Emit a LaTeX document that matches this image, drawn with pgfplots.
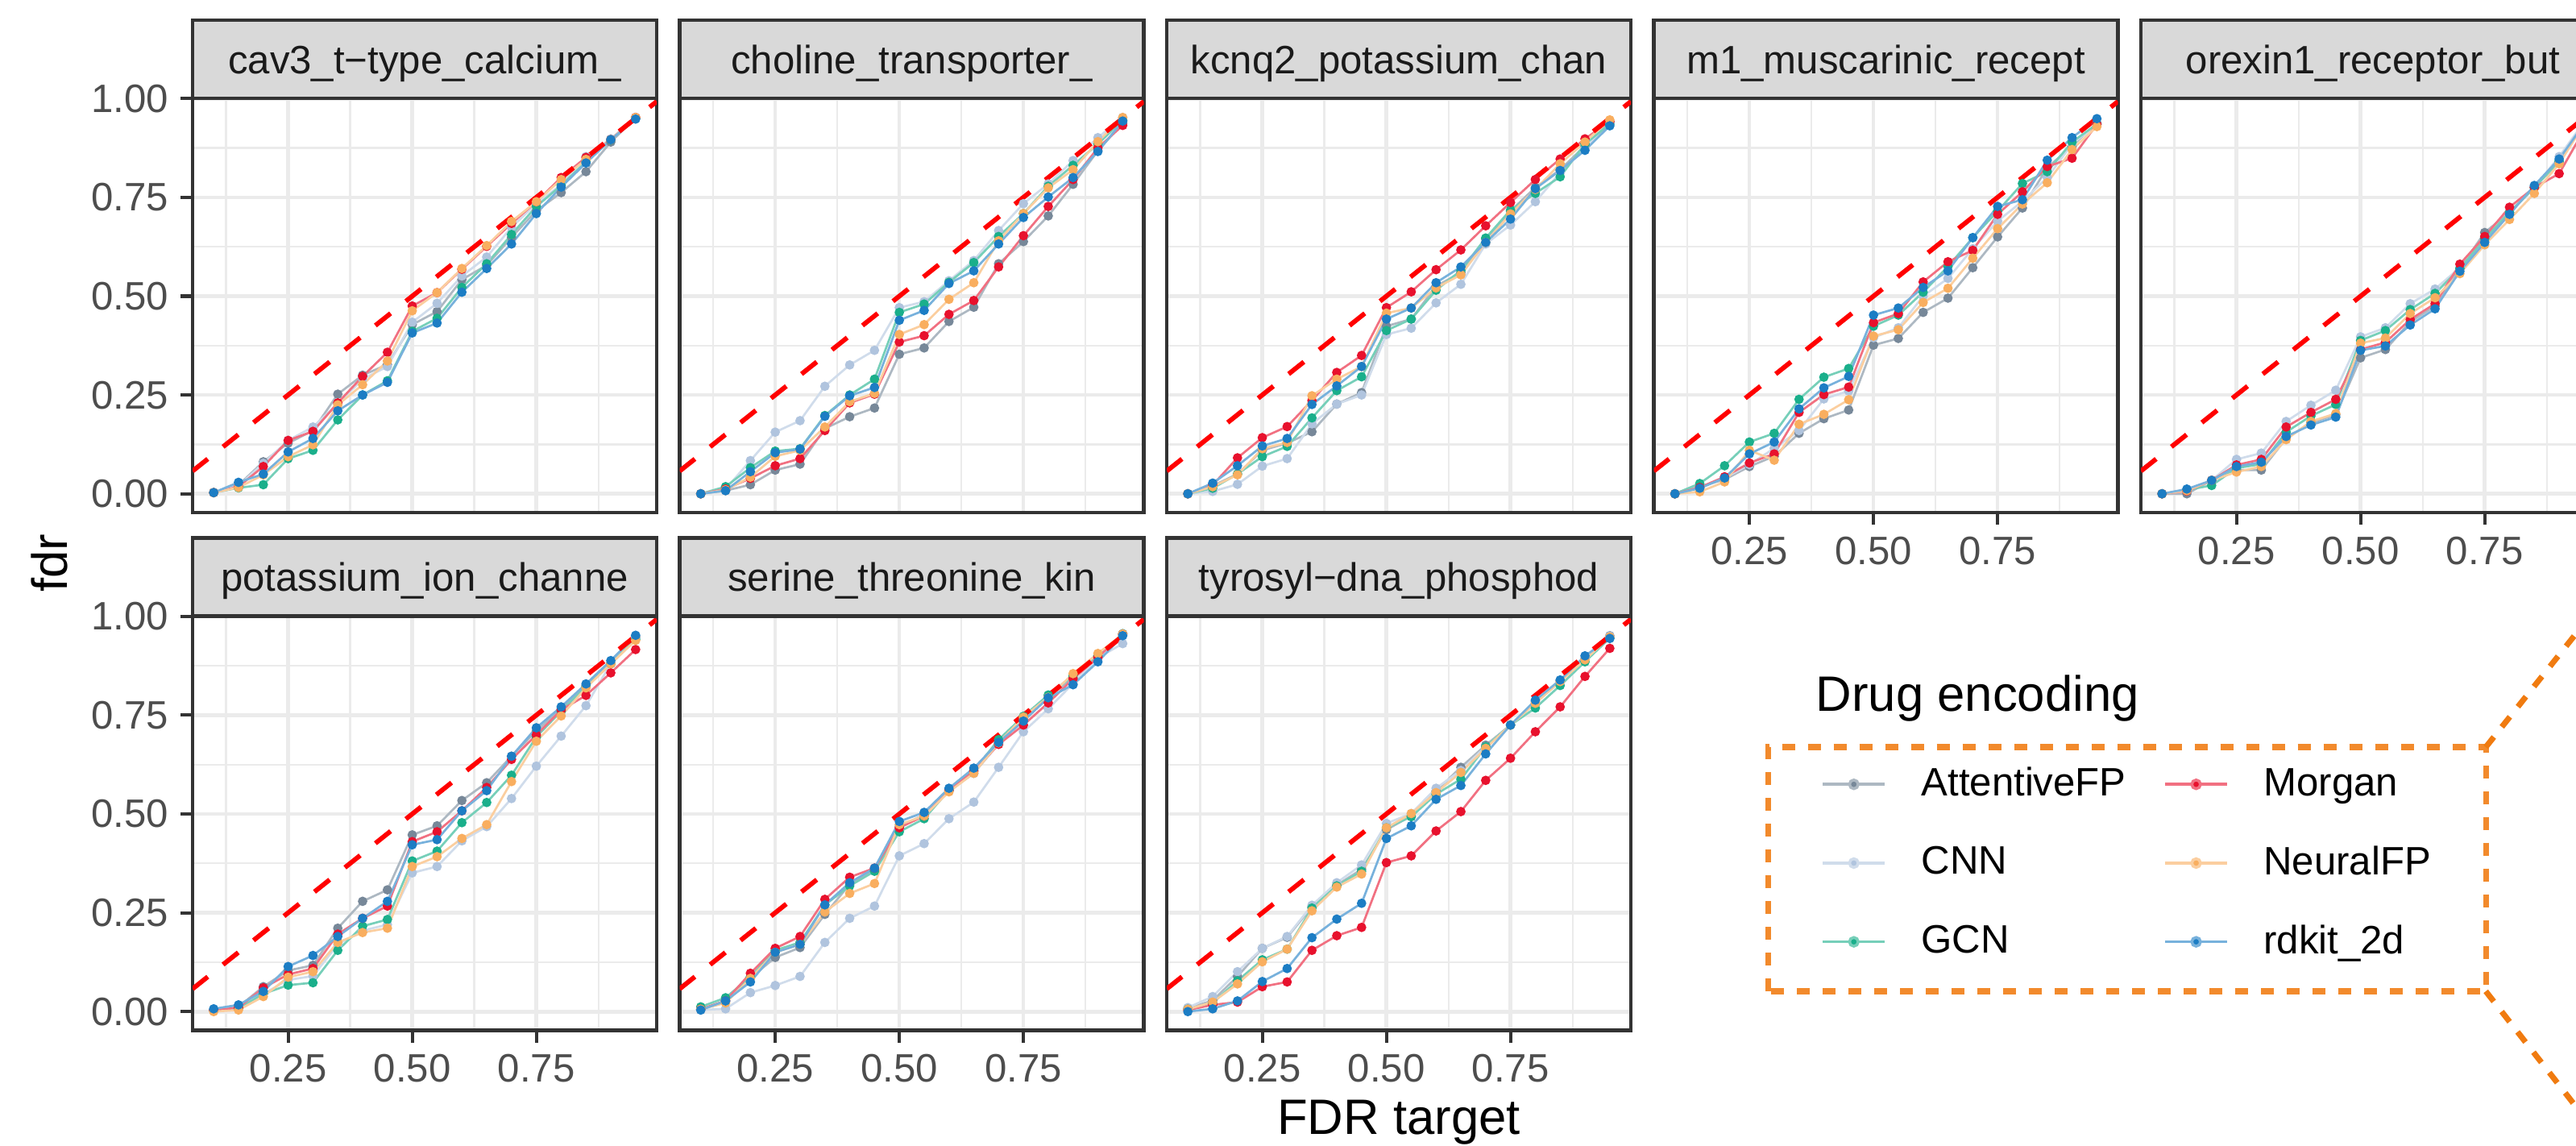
\documentclass[border=0pt]{standalone}
\usepackage{pgfplots}
\usepackage{pgfplotstable}
\pgfplotsset{compat=1.18}
\usepackage{fontspec}
\setmainfont{Liberation Sans}

\definecolor{grey92}{HTML}{EBEBEB}
\definecolor{grey85}{HTML}{D9D9D9}
\definecolor{grey20}{HTML}{333333}
\definecolor{grey30}{HTML}{4D4D4D}
\definecolor{grey10}{HTML}{1A1A1A}
\definecolor{cAtt}{HTML}{778899}
\definecolor{cCnn}{HTML}{B0C4DE}
\definecolor{cGcn}{HTML}{1AAF8B}
\definecolor{cMor}{HTML}{E8112D}
\definecolor{cNeu}{HTML}{F9AE5F}
\definecolor{cRdk}{HTML}{1C7DC4}
\definecolor{cBox}{HTML}{F28A2C}
\definecolor{cCall}{HTML}{F07B10}

\newcommand{\ticksize}{\fontsize{11.8}{14}\selectfont}
\newcommand{\titlesize}{\fontsize{14.8}{17}\selectfont}

% fdr per FDR target, one table per target (columns = drug encodings)
\pgfplotstableread{
x    att   cnn   gcn   mor   neu   rdk
0.10 0.003 0.003 0.003 0.003 0.003 0.003
0.15 0.022 0.020 0.015 0.018 0.016 0.029
0.20 0.081 0.077 0.023 0.069 0.048 0.050
0.25 0.128 0.135 0.089 0.135 0.094 0.106
0.30 0.160 0.169 0.110 0.158 0.124 0.140
0.35 0.252 0.228 0.187 0.230 0.225 0.210
0.40 0.300 0.290 0.250 0.297 0.276 0.250
0.45 0.327 0.322 0.286 0.358 0.336 0.282
0.50 0.428 0.434 0.411 0.475 0.463 0.407
0.55 0.461 0.482 0.444 0.509 0.509 0.432
0.60 0.542 0.551 0.522 0.568 0.570 0.510
0.65 0.578 0.599 0.582 0.626 0.628 0.570
0.70 0.649 0.674 0.656 0.684 0.689 0.632
0.75 0.716 0.734 0.727 0.739 0.739 0.709
0.80 0.762 0.782 0.780 0.800 0.795 0.776
0.85 0.815 0.853 0.840 0.851 0.846 0.837
0.90 0.890 0.898 0.895 0.896 0.896 0.896
0.95 0.952 0.952 0.950 0.952 0.952 0.948
}\tCav
\pgfplotstableread{
x    att   cnn   gcn   mor   neu   rdk
0.10 0.000 0.000 0.000 0.000 0.000 0.000
0.15 0.008 0.012 0.018 0.012 0.010 0.008
0.20 0.023 0.084 0.066 0.039 0.042 0.056
0.25 0.060 0.156 0.108 0.071 0.095 0.104
0.30 0.075 0.185 0.114 0.089 0.110 0.113
0.35 0.165 0.272 0.198 0.160 0.169 0.196
0.40 0.195 0.326 0.250 0.230 0.233 0.248
0.45 0.217 0.363 0.290 0.252 0.254 0.269
0.50 0.353 0.471 0.459 0.384 0.403 0.439
0.55 0.369 0.486 0.480 0.400 0.428 0.464
0.60 0.436 0.539 0.535 0.454 0.492 0.532
0.65 0.472 0.590 0.585 0.489 0.534 0.564
0.70 0.582 0.666 0.651 0.574 0.640 0.632
0.75 0.638 0.734 0.709 0.653 0.709 0.699
0.80 0.703 0.784 0.778 0.727 0.774 0.751
0.85 0.783 0.843 0.831 0.795 0.820 0.800
0.90 0.868 0.901 0.885 0.875 0.891 0.866
0.95 0.938 0.952 0.945 0.932 0.952 0.943
}\tCho
\pgfplotstableread{
x    att   cnn   gcn   mor   neu   rdk
0.10 0.000 0.000 0.000 0.000 0.000 0.000
0.15 0.020 0.006 0.014 0.022 0.018 0.027
0.20 0.050 0.024 0.050 0.091 0.048 0.071
0.25 0.110 0.070 0.094 0.142 0.114 0.121
0.30 0.128 0.089 0.120 0.170 0.130 0.140
0.35 0.157 0.177 0.192 0.236 0.248 0.226
0.40 0.227 0.227 0.261 0.307 0.290 0.273
0.45 0.256 0.250 0.296 0.350 0.322 0.322
0.50 0.424 0.403 0.413 0.471 0.457 0.442
0.55 0.442 0.419 0.442 0.511 0.470 0.470
0.60 0.525 0.483 0.515 0.567 0.521 0.534
0.65 0.560 0.530 0.565 0.617 0.554 0.574
0.70 0.645 0.632 0.647 0.678 0.636 0.636
0.75 0.715 0.680 0.718 0.737 0.708 0.695
0.80 0.775 0.739 0.760 0.795 0.770 0.772
0.85 0.820 0.812 0.802 0.847 0.835 0.818
0.90 0.880 0.876 0.885 0.898 0.890 0.869
0.95 0.940 0.938 0.935 0.942 0.946 0.931
}\tKcn
\pgfplotstableread{
x    att   cnn   gcn   mor   neu   rdk
0.10 0.000 0.000 0.000 0.000 0.000 0.000
0.15 0.018 0.015 0.026 0.016 0.005 0.014
0.20 0.036 0.040 0.071 0.043 0.030 0.040
0.25 0.069 0.074 0.131 0.078 0.110 0.101
0.30 0.095 0.115 0.153 0.101 0.085 0.131
0.35 0.153 0.160 0.239 0.206 0.176 0.215
0.40 0.190 0.240 0.295 0.251 0.201 0.268
0.45 0.212 0.260 0.317 0.270 0.238 0.297
0.50 0.376 0.395 0.424 0.433 0.399 0.452
0.55 0.393 0.420 0.452 0.456 0.415 0.470
0.60 0.459 0.500 0.510 0.536 0.484 0.522
0.65 0.495 0.545 0.575 0.587 0.520 0.564
0.70 0.572 0.620 0.648 0.616 0.596 0.648
0.75 0.650 0.690 0.715 0.707 0.671 0.727
0.80 0.723 0.740 0.785 0.764 0.733 0.744
0.85 0.825 0.800 0.815 0.828 0.787 0.844
0.90 0.880 0.885 0.890 0.849 0.871 0.901
0.95 0.938 0.935 0.935 0.935 0.929 0.949
}\tMus
\pgfplotstableread{
x    att   cnn   gcn   mor   neu   rdk
0.10 0.000 0.000 0.000 0.000 0.000 0.000
0.15 0.000 0.008 0.010 0.007 0.008 0.012
0.20 0.034 0.034 0.021 0.034 0.034 0.034
0.25 0.060 0.087 0.065 0.073 0.055 0.069
0.30 0.060 0.103 0.075 0.087 0.069 0.080
0.35 0.140 0.183 0.156 0.169 0.137 0.145
0.40 0.180 0.224 0.197 0.206 0.183 0.174
0.45 0.200 0.262 0.226 0.239 0.203 0.194
0.50 0.344 0.397 0.388 0.365 0.381 0.363
0.55 0.365 0.420 0.413 0.383 0.394 0.374
0.60 0.435 0.481 0.466 0.441 0.456 0.427
0.65 0.475 0.518 0.507 0.481 0.496 0.468
0.70 0.570 0.572 0.570 0.581 0.557 0.563
0.75 0.661 0.645 0.645 0.651 0.630 0.636
0.80 0.712 0.712 0.712 0.725 0.694 0.707
0.85 0.775 0.775 0.775 0.775 0.760 0.780
0.90 0.840 0.853 0.842 0.810 0.835 0.847
0.95 0.935 0.940 0.935 0.920 0.935 0.935
}\tOre
\pgfplotstableread{
x    att   cnn   gcn   mor   neu   rdk
0.10 0.005 0.003 0.003 0.003 0.000 0.007
0.15 0.012 0.010 0.008 0.010 0.004 0.017
0.20 0.063 0.045 0.045 0.060 0.038 0.051
0.25 0.104 0.080 0.067 0.094 0.087 0.114
0.30 0.117 0.090 0.073 0.109 0.101 0.142
0.35 0.211 0.170 0.155 0.196 0.175 0.190
0.40 0.279 0.205 0.216 0.236 0.200 0.236
0.45 0.308 0.220 0.233 0.267 0.211 0.279
0.50 0.447 0.351 0.381 0.430 0.367 0.422
0.55 0.470 0.367 0.406 0.455 0.392 0.435
0.60 0.534 0.432 0.478 0.508 0.438 0.508
0.65 0.579 0.468 0.529 0.567 0.473 0.559
0.70 0.646 0.539 0.598 0.638 0.582 0.646
0.75 0.710 0.621 0.695 0.700 0.684 0.718
0.80 0.766 0.697 0.760 0.763 0.748 0.771
0.85 0.825 0.774 0.822 0.800 0.819 0.829
0.90 0.882 0.880 0.880 0.857 0.880 0.888
0.95 0.948 0.945 0.942 0.916 0.939 0.952
}\tPot
\pgfplotstableread{
x    att   cnn   gcn   mor   neu   rdk
0.10 0.006 0.004 0.012 0.006 0.006 0.004
0.15 0.027 0.007 0.035 0.027 0.022 0.027
0.20 0.085 0.048 0.088 0.097 0.084 0.075
0.25 0.137 0.066 0.155 0.160 0.150 0.150
0.30 0.162 0.089 0.175 0.190 0.170 0.170
0.35 0.246 0.175 0.270 0.284 0.252 0.270
0.40 0.322 0.236 0.318 0.340 0.299 0.326
0.45 0.358 0.267 0.355 0.363 0.324 0.363
0.50 0.468 0.394 0.455 0.465 0.473 0.481
0.55 0.498 0.425 0.488 0.495 0.495 0.504
0.60 0.558 0.488 0.560 0.560 0.556 0.565
0.65 0.603 0.530 0.610 0.608 0.603 0.616
0.70 0.678 0.618 0.688 0.676 0.680 0.681
0.75 0.740 0.708 0.747 0.725 0.745 0.735
0.80 0.795 0.766 0.801 0.781 0.795 0.794
0.85 0.845 0.830 0.850 0.842 0.855 0.827
0.90 0.900 0.895 0.900 0.896 0.906 0.885
0.95 0.955 0.931 0.956 0.955 0.955 0.951
}\tSer
\pgfplotstableread{
x    att   cnn   gcn   mor   neu   rdk
0.10 0.008 0.010 0.006 0.004 0.006 0.000
0.15 0.028 0.038 0.022 0.017 0.024 0.007
0.20 0.089 0.101 0.078 0.024 0.070 0.027
0.25 0.160 0.160 0.131 0.063 0.126 0.076
0.30 0.188 0.190 0.158 0.075 0.158 0.109
0.35 0.265 0.269 0.262 0.155 0.255 0.187
0.40 0.320 0.326 0.318 0.192 0.315 0.234
0.45 0.360 0.371 0.355 0.213 0.348 0.274
0.50 0.460 0.476 0.465 0.377 0.465 0.438
0.55 0.495 0.501 0.493 0.394 0.501 0.470
0.60 0.558 0.565 0.550 0.457 0.554 0.537
0.65 0.618 0.610 0.588 0.506 0.605 0.572
0.70 0.674 0.670 0.670 0.585 0.666 0.652
0.75 0.725 0.725 0.725 0.641 0.725 0.725
0.80 0.785 0.782 0.768 0.708 0.780 0.788
0.85 0.837 0.835 0.825 0.771 0.835 0.839
0.90 0.893 0.892 0.885 0.848 0.890 0.900
0.95 0.951 0.950 0.945 0.919 0.948 0.944
}\tTyr

\pgfplotsset{
  panel/.style={
    scale only axis, width=138.24pt, height=123.36pt, anchor=south west,
    xmin=0.0575, xmax=0.9925, ymin=-0.0475, ymax=1.0005,
    xtick={0.25,0.5,0.75}, ytick={0,0.25,0.5,0.75,1},
    minor xtick={0.125,0.375,0.625,0.875},
    minor ytick={0.125,0.375,0.625,0.875},
    xticklabels={0.25,0.50,0.75},
    yticklabels={0.00,0.25,0.50,0.75,1.00},
    grid=both,
    major grid style={draw=grey92, line width=1.1pt},
    minor grid style={draw=grey92, line width=0.55pt},
    axis line style={draw=grey20, line width=1pt},
    tick pos=left, tick align=outside,
    major tick length=3.6pt, minor tick length=0pt,
    tick style={draw=grey20, line width=1pt},
    tick label style={font=\ticksize, text=grey30},
  },
  noxlab/.style={xticklabels={}, xtick style={draw=none}},
  noylab/.style={yticklabels={}, ytick style={draw=none}},
  ln/.style={forget plot, no markers, line width=0.65pt},
  pt/.style={forget plot, only marks, mark=*, mark size=1.2pt,
             mark options={draw=none}},
  refline/.style={forget plot, no markers, color=red, line width=1.4pt,
                  dash pattern=on 5.8pt off 5.8pt},
}

\newcommand{\drawseries}[1]{%
  \addplot[ln, color=cAtt!60!white] table[x=x, y=att] {#1};
  \addplot[ln, color=cCnn!60!white] table[x=x, y=cnn] {#1};
  \addplot[ln, color=cGcn!60!white] table[x=x, y=gcn] {#1};
  \addplot[ln, color=cMor!60!white] table[x=x, y=mor] {#1};
  \addplot[ln, color=cNeu!60!white] table[x=x, y=neu] {#1};
  \addplot[ln, color=cRdk!60!white] table[x=x, y=rdk] {#1};
  \addplot[pt, color=cAtt] table[x=x, y=att] {#1};
  \addplot[pt, color=cCnn] table[x=x, y=cnn] {#1};
  \addplot[pt, color=cGcn] table[x=x, y=gcn] {#1};
  \addplot[pt, color=cMor] table[x=x, y=mor] {#1};
  \addplot[pt, color=cNeu] table[x=x, y=neu] {#1};
  \addplot[pt, color=cRdk] table[x=x, y=rdk] {#1};
  \addplot[refline] coordinates {(0.0575,0.0575) (0.9925,0.9925)};
}

% facet strip on top of a named panel
\newcommand{\strip}[2]{%
  \draw[fill=grey85, draw=grey20, line width=1pt]
    (#1.north west) rectangle ([yshift=23.28pt]#1.north east);
  \node[anchor=base, inner sep=0pt, font=\ticksize, text=grey10]
    at ([yshift=7.44pt]#1.north) {#2};
}

\begin{document}
\begin{tikzpicture}
\useasboundingbox (0,0) rectangle (767.28pt,341.04pt);
\clip (0,0) rectangle (767.28pt,341.04pt);

% --- row 1 ---
\begin{axis}[panel, noxlab, name=p1, at={(57.36pt,188.4pt)}]
\drawseries{\tCav}
\end{axis}
\strip{p1}{cav3\_t−type\_calcium\_}

\begin{axis}[panel, noxlab, noylab, name=p2, at={(202.44pt,188.4pt)}]
\drawseries{\tCho}
\end{axis}
\strip{p2}{choline\_transporter\_}

\begin{axis}[panel, noxlab, noylab, name=p3, at={(347.52pt,188.4pt)}]
\drawseries{\tKcn}
\end{axis}
\strip{p3}{kcnq2\_potassium\_chan}

\begin{axis}[panel, noylab, name=p4, at={(492.6pt,188.4pt)}]
\drawseries{\tMus}
\end{axis}
\strip{p4}{m1\_muscarinic\_recept}

\begin{axis}[panel, noylab, name=p5, at={(637.68pt,188.4pt)}]
\drawseries{\tOre}
\end{axis}
\strip{p5}{orexin1\_receptor\_but}

% --- row 2 ---
\begin{axis}[panel, name=p6, at={(57.36pt,34.2pt)}]
\drawseries{\tPot}
\end{axis}
\strip{p6}{potassium\_ion\_channe}

\begin{axis}[panel, noylab, name=p7, at={(202.44pt,34.2pt)}]
\drawseries{\tSer}
\end{axis}
\strip{p7}{serine\_threonine\_kin}

\begin{axis}[panel, noylab, name=p8, at={(347.52pt,34.2pt)},
  legend columns=2,
  legend cell align=left,
  legend style={
    at={(1.4089,0.6363)}, anchor=north west,
    draw=none, fill=none, inner sep=0pt,
    font=\ticksize, text=black,
    row sep=13.4pt,
    nodes={inner sep=0pt},
    /tikz/every odd column/.append style={column sep=10.44pt},
    /tikz/every even column/.append style={column sep=11.17pt},
  },
  legend image code/.code={%
    \draw[mark repeat=2, mark phase=2, #1]
      plot coordinates {(0pt,0pt) (9.25pt,0pt) (18.5pt,0pt)};},
]
\drawseries{\tTyr}
\addlegendimage{color=cAtt!60!white, line width=0.85pt, mark=*, mark size=1.3pt, mark options={fill=cAtt, draw=none}}
\addlegendentry{AttentiveFP}
\addlegendimage{color=cMor!60!white, line width=0.85pt, mark=*, mark size=1.3pt, mark options={fill=cMor, draw=none}}
\addlegendentry{Morgan}
\addlegendimage{color=cCnn!60!white, line width=0.85pt, mark=*, mark size=1.3pt, mark options={fill=cCnn, draw=none}}
\addlegendentry{CNN}
\addlegendimage{color=cNeu!60!white, line width=0.85pt, mark=*, mark size=1.3pt, mark options={fill=cNeu, draw=none}}
\addlegendentry{NeuralFP}
\addlegendimage{color=cGcn!60!white, line width=0.85pt, mark=*, mark size=1.3pt, mark options={fill=cGcn, draw=none}}
\addlegendentry{GCN}
\addlegendimage{color=cRdk!60!white, line width=0.85pt, mark=*, mark size=1.3pt, mark options={fill=cRdk, draw=none}}
\addlegendentry{rdkit\_2d}
\end{axis}
\strip{p8}{tyrosyl−dna\_phosphod}

% --- axis titles ---
\node[anchor=base, rotate=90, inner sep=0pt, font=\titlesize] at (20.1pt,173.4pt) {fdr};
\node[anchor=base, inner sep=0pt, font=\titlesize] at (416.64pt,3.3pt) {FDR target};

% --- legend title, dashed frame and callout ---
\node[anchor=base west, inner sep=0pt, font=\titlesize] at (540.72pt,129.24pt) {Drug encoding};
\draw[cBox, line width=1.7pt, dash pattern=on 3.84pt off 3.84pt]
  (526.68pt,45.84pt) rectangle (740.4pt,118.56pt);
\draw[cCall, line width=1.7pt, dash pattern=on 3.84pt off 3.84pt]
  (740.4pt,118.56pt) -- (790pt,180.9pt);
\draw[cCall, line width=1.7pt, dash pattern=on 3.84pt off 3.84pt]
  (740.4pt,45.84pt) -- (790pt,-17.6pt);
\end{tikzpicture}
\end{document}
